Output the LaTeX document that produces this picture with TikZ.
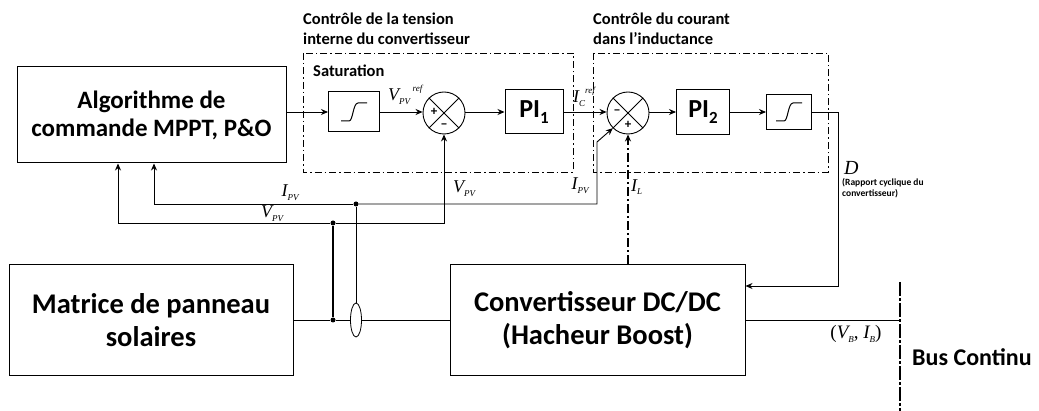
\documentclass[tikz,border=0pt]{standalone}
\usepackage{fontspec}
\setmainfont{Carlito}
\newfontfamily\tms{Liberation Serif}
\usetikzlibrary{arrows.meta,shapes.geometric,calc}
\tikzset{
  blk/.style={draw,line width=1pt,inner sep=0pt,align=center},
  bigtxt/.style={font=\fontsize{25}{28}\selectfont\bfseries},
  hugetxt/.style={font=\fontsize{28.5}{33}\selectfont\bfseries},
  sumn/.style={draw,circle,line width=0.9pt,minimum size=42pt,inner sep=0pt},
  arr/.style={-{Stealth[length=7pt,width=6pt]}},
  wire/.style={line width=0.9pt},
  ctrlbox/.style={line width=0.9pt,dash pattern=on 7pt off 3pt on 1.5pt off 3pt},
  ttl/.style={font=\fontsize{16.5}{20}\selectfont\bfseries,align=left,inner sep=0pt},
  mlab/.style={font=\fontsize{18}{20}\selectfont\tms\itshape,inner sep=1pt},
  sgn/.style={font=\fontsize{13}{13}\selectfont\bfseries,inner sep=0pt},
  dot/.style={circle,fill,inner sep=0pt,minimum size=5pt},
}
\newcommand{\mv}[3]{#1\raisebox{-0.45ex}{\fontsize{9}{9}\selectfont #2}\raisebox{1.1ex}{\fontsize{9}{9}\selectfont #3}}
\newcommand{\satsym}[1]{%
  \draw[line width=1pt] ($(#1)+(-13,9)$) -- ($(#1)+(-5,9)$) .. controls ($(#1)+(-1,9)$) and ($(#1)+(-1,-9)$) .. ($(#1)+(4,-9)$) -- ($(#1)+(13,-9)$);}
\newcommand{\sumx}[1]{%
  \draw[line width=0.9pt] (#1.45) -- (#1.225) (#1.135) -- (#1.315);}
\begin{document}
\begin{tikzpicture}[x=1pt,y=-1pt]
\useasboundingbox (0,0) rectangle (1039,411);
% control boxes
\draw[ctrlbox] (303,53) rectangle (573,172);
\draw[ctrlbox] (593,53) rectangle (828,172);
\node[ttl,anchor=north west] (t1) at (303,13) {Contrôle de la tension\\interne du convertisseur};
\node[ttl,anchor=north west] (t2) at (593,13) {Contrôle du courant\\dans l’inductance};
\node[ttl,anchor=west] (satl) at (313,71) {Saturation};
% main blocks
\node[blk,bigtxt,minimum width=269pt,minimum height=96pt] (mppt) at (151.5,115) {Algorithme de\\commande MPPT, P\&O};
\node[blk,hugetxt,minimum width=284pt,minimum height=111pt] (mat) at (151,320) {Matrice de panneau\\solaires};
\node[blk,hugetxt,minimum width=295pt,minimum height=111pt] (conv) at (597.5,320) {Convertisseur DC/DC\\(Hacheur Boost)};
% loop blocks
\node[blk,minimum width=51pt,minimum height=40pt] (sat1) at (354,112) {};
\satsym{sat1}
\node[sumn] (s1) at (444,113) {};
\sumx{s1}
\node[blk,font=\fontsize{26}{28}\selectfont\bfseries,minimum width=58pt,minimum height=44pt] (pi1) at (534,112) {PI\raisebox{-0.5ex}{\fontsize{17}{17}\selectfont 1}};
\node[sumn] (s2) at (628,113) {};
\sumx{s2}
\node[blk,font=\fontsize{26}{28}\selectfont\bfseries,minimum width=53pt,minimum height=45pt] (pi2) at (703,112) {PI\raisebox{-0.5ex}{\fontsize{17}{17}\selectfont 2}};
\node[blk,minimum width=45pt,minimum height=35pt] (sat2) at (789,112) {};
\satsym{sat2}
% signs
\node[sgn] at (434,112) {+};
\node[sgn] at (444,126) {\textminus};
\node[sgn] at (617,112) {\textminus};
\node[sgn] at (628,125) {+};
% forward path
\draw[wire,arr] (mppt.east |- sat1.west) -- (sat1.west);
\draw[wire,arr] (sat1.east) -- (s1.west |- sat1.east);
\draw[wire,arr] (s1.east |- pi1.west) -- (pi1.west);
\draw[wire,arr] (pi1.east) -- (s2.west |- pi1.east);
\draw[wire,arr] (s2.east |- pi2.west) -- (pi2.west);
\draw[wire,arr] (pi2.east) -- (sat2.west);
\coordinate (dc1) at (838,112);
\coordinate (dc2) at (838,286);
\draw[wire,arr] (sat2.east) -- (dc1) -- (dc2) -- (conv.east |- dc2);
% power path
\node[dot] (jv) at (333,320) {};
\node[draw,ellipse,line width=0.8pt,minimum width=11pt,minimum height=34pt,inner sep=0pt] (ct) at (356,320) {};
\draw[wire] (mat.east |- jv) -- (jv) -- (ct.west);
\draw[wire] (ct.east) -- (conv.west |- ct.east);
\coordinate (bt) at (900,282);
\coordinate (bb) at (900,411);
\draw[line width=1.6pt,dash pattern=on 14pt off 2pt on 3pt off 2pt] (bt) -- (bb);
\coordinate (bo) at (900,320);
\draw[wire] (conv.east |- bo) -- (bo);
% feedback
\node[dot] (jvt) at (333,223) {};
\node[dot] (jit) at (356,204) {};
\draw[line width=1.6pt] (jv) -- (jvt);
\draw[wire] (ct.north) -- (jit);
\coordinate (va) at (118,223);
\coordinate (vb) at (444,223);
\draw[wire,arr] (jvt) -- (va) -- (mppt.south -| va);
\draw[wire,arr] (jvt) -- (vb) -- (s1.south);
\coordinate (ia) at (154,204);
\coordinate (ib) at (597,204);
\coordinate (ic) at (597,142);
\draw[wire,arr] (jit) -- (ia) -- (mppt.south -| ia);
\draw[wire,arr] (jit) -- (ib) -- (ic) -- (s2.225);
\draw[line width=1.3pt,dash pattern=on 9pt off 3pt on 2pt off 3pt,arr] (conv.north -| s2) -- (s2.south);
% labels
\node[mlab,anchor=west] (l1) at (387,95) {\mv{V}{PV}{\;ref}};
\node[mlab,anchor=west] (l2) at (572,97) {\mv{I}{C}{ref}};
\node[mlab] (l3) at (290,193) {\mv{I}{PV}{}};
\node[mlab] (l4) at (272,214) {\mv{V}{PV}{}};
\node[mlab,anchor=west] (l5) at (452,189) {\mv{V}{PV}{}};
\node[mlab] (l6) at (580,186) {\mv{I}{PV}{}};
\node[mlab,anchor=west] (l7) at (630,187) {\mv{I}{L}{}};
\node[mlab,font=\fontsize{20}{20}\selectfont\tms\itshape,anchor=west] (l8) at (843,168) {D};
\node[font=\fontsize{9.5}{11}\selectfont\bfseries,align=left,anchor=north west,inner sep=0pt] (l9) at (842,178) {(Rapport cyclique du\\convertisseur)};
\node[mlab,font=\fontsize{19}{20}\selectfont\tms] (l10) at (856,334) {(\textit{\mv{V}{B}{}}, \textit{\mv{I}{B}{}})};
\node[font=\fontsize{24}{26}\selectfont\bfseries,anchor=west,inner sep=0pt] (l11) at (912,357) {Bus Continu};
\end{tikzpicture}
\end{document}
